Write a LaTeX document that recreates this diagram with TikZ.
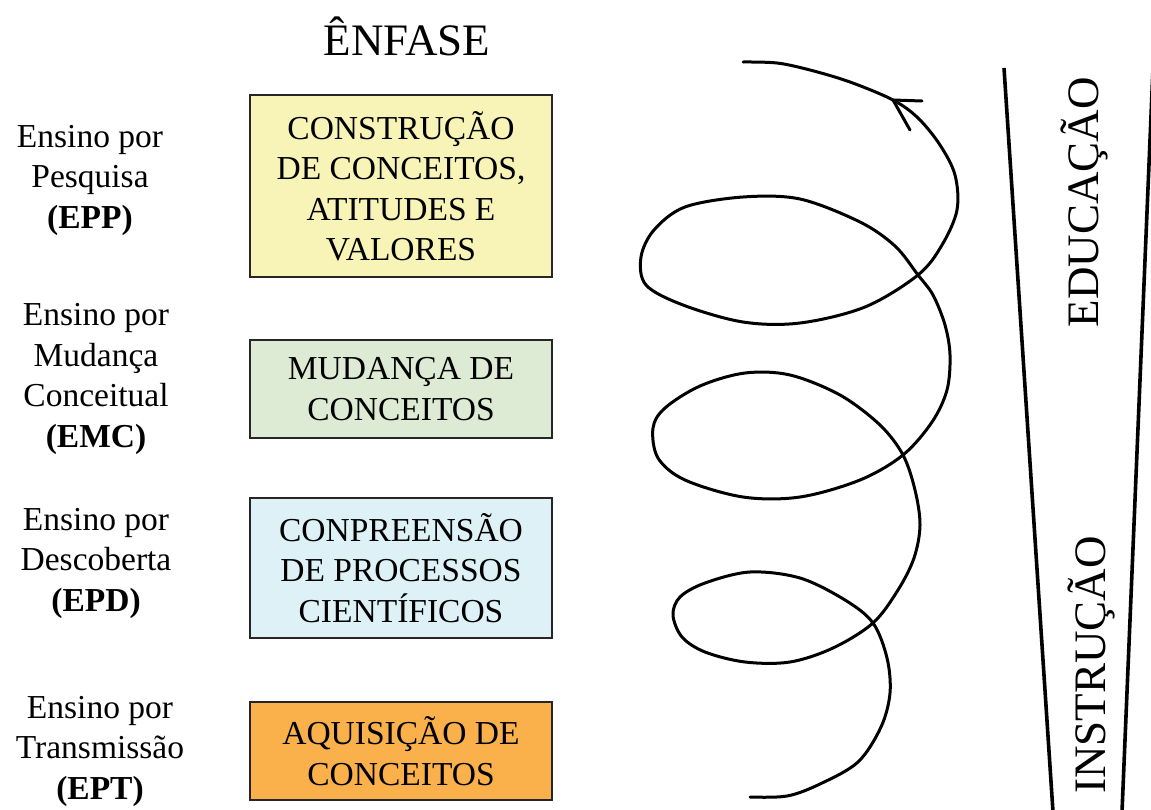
\documentclass[tikz,border=0pt]{standalone}
\usepackage{fontspec}
\setmainfont{Liberation Serif}
\definecolor{cyel}{HTML}{F8F4B8}
\definecolor{cgrn}{HTML}{DEEBD4}
\definecolor{cblu}{HTML}{DDF1F7}
\definecolor{corg}{HTML}{FAB04B}
\begin{document}
\begin{tikzpicture}[x=1pt,y=-1pt,
  boxst/.style={draw=black!85, line width=1.5pt, minimum width=302pt, inner sep=0pt, align=center,
    font=\fontsize{33.5}{40.5}\selectfont},
  lblst/.style={align=center, inner sep=0pt, font=\fontsize{33.5}{40.5}\selectfont},
  bigst/.style={inner sep=0pt, font=\fontsize{45}{50}\selectfont},
  spiral/.style={line width=3pt, line cap=round, line join=round},
  wedge/.style={line width=3.6pt}]
\useasboundingbox (0,0) rectangle (1151,809);
\fill[white] (0,0) rectangle (1151,809);

% title
\node[bigst, anchor=base] (title) at (407,55) {ÊNFASE};

% boxes
\node[boxst, fill=cyel, minimum height=182pt] (b1) at (401,186)
  {CONSTRUÇÃO\\DE CONCEITOS,\\ATITUDES E\\VALORES};
\node[boxst, fill=cgrn, minimum height=98pt] (b2) at (401,389)
  {MUDANÇA DE\\CONCEITOS};
\node[boxst, fill=cblu, minimum height=140pt] (b3) at (401,568)
  {CONPREENSÃO\\DE PROCESSOS\\CIENTÍFICOS};
\node[boxst, fill=corg, minimum height=98pt] (b4) at (401,751)
  {AQUISIÇÃO DE\\CONCEITOS};

% left labels
\node[lblst] (l1) at (90,180) {Ensino por\\Pesquisa\\\textbf{(EPP)}};
\node[lblst] (l2) at (96,379) {Ensino por\\Mudança\\Conceitual\\\textbf{(EMC)}};
\node[lblst] (l3) at (96,563) {Ensino por\\Descoberta\\\textbf{(EPD)}};
\node[lblst] (l4) at (100,751) {Ensino por\\Transmissão\\\textbf{(EPT)}};

% wedge
\coordinate (wl1) at (1004,68);
\coordinate (wl2) at (1053,812);
\coordinate (wr1) at (1153,68);
\coordinate (wr2) at (1122,812);
\draw[wedge] (wl1) -- (wl2);
\draw[wedge] (wr1) -- (wr2);
\node[bigst, rotate=90, anchor=base] (edu) at (1098,202) {EDUCAÇÃO};
\node[bigst, rotate=90, anchor=base] (ins) at (1105,665) {INSTRUÇÃO};

% spiral
\draw[spiral] plot[smooth, tension=0.55] coordinates {
(750,797) (787,796) (820,784) (858,762) (881,727) (890,693) (887,658) (873,623)
(845,600) (800,578) (750,572) (705,583) (680,597) (673,615) (682,637) (705,652)
(745,662) (790,662) (833,648) (873,623) (898,590) (914,558) (920,525) (915,490)
(903,455) (880,425) (840,395) (790,375) (745,373) (700,386) (665,408) (653,428)
(658,458) (685,480) (743,497) (800,497) (860,480) (903,455) (932,422) (947,390)
(950,355) (945,325) (933,295) (918,275) (895,246) (860,222) (800,199) (743,197)
(685,207) (654,230) (641,257) (646,285) (683,305) (743,322) (800,323) (865,307)
(918,275) (942,245) (957,210) (955,175) (940,145) (918,118) (893,100) (850,82)
(810,70) (777,63) (743,62)};
\coordinate (tip) at (893,100);
\draw[spiral] (tip) -- ++(29,1);
\draw[spiral] (tip) -- ++(17,30);
\end{tikzpicture}
\end{document}
